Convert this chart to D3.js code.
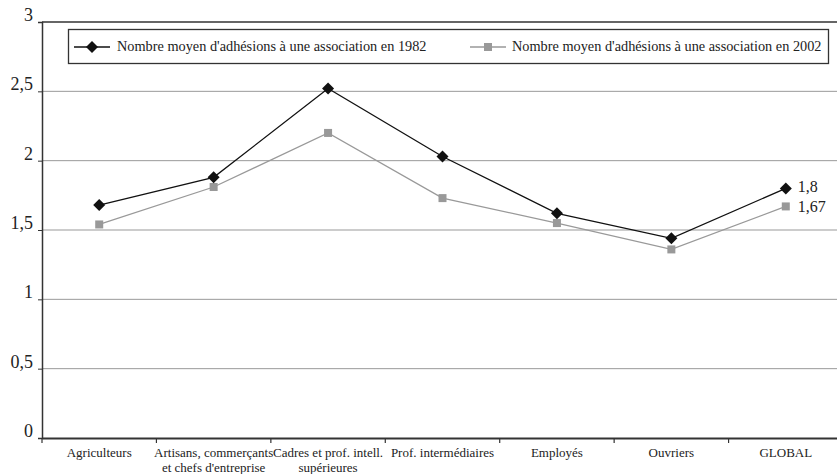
<!DOCTYPE html>
<html><head><meta charset="utf-8">
<script src="https://cdn.jsdelivr.net/npm/d3@7"></script>
<style>body{margin:0;background:#fff}svg{display:block}svg text{font-family:"Liberation Serif","Times New Roman",serif}</style>
</head><body>
<svg id="c" width="837" height="474"></svg>
<script>
const categories = ["Agriculteurs", "Artisans, commerçants\net chefs d'entreprise", "Cadres et prof. intell.\nsupérieures", "Prof. intermédiaires", "Employés", "Ouvriers", "GLOBAL"];
const values1982 = [1.68, 1.88, 2.52, 2.03, 1.62, 1.44, 1.80];
const values2002 = [1.54, 1.81, 2.20, 1.73, 1.55, 1.36, 1.67];
const yTicks = [0, 0.5, 1, 1.5, 2, 2.5, 3];
const yTickLabels = ["0", "0,5", "1", "1,5", "2", "2,5", "3"];
const seriesNames = ["Nombre moyen d'adhésions à une association en 1982", "Nombre moyen d'adhésions à une association en 2002"];
const endLabels = ["1,8", "1,67"];

(function(){
const FONT = "'Liberation Serif', 'Times New Roman', serif";
const svg = d3.select("#c");
const mLeft = 42, mRight = 843, mTop = 22, mBottom = 438;
const x = d3.scaleBand().domain(categories).range([mLeft, mRight]);
const y = d3.scaleLinear().domain([0, 3]).range([mBottom, mTop]);

svg.append("g").selectAll("line").data(yTicks.filter(d => d > 0)).join("line")
  .attr("x1", mLeft).attr("x2", 837).attr("y1", d => y(d)).attr("y2", d => y(d))
  .attr("stroke", d => d === 3 ? "#333" : "#999").attr("stroke-width", d => d === 3 ? 1.3 : 1);

const ya = d3.axisLeft(y).tickValues(yTicks).tickFormat((d, i) => yTickLabels[i]).tickSize(4).tickPadding(5);
const gy = svg.append("g").attr("transform", `translate(${mLeft},0)`).call(ya).attr("font-family", FONT);
gy.select(".domain").attr("stroke", "#333").attr("stroke-width", 1.5);
gy.selectAll(".tick line").attr("stroke", "#333");
gy.selectAll("text").attr("font-size", 18).attr("fill", "#222").attr("font-family", FONT).attr("dy", "-0.08em");

const xa = d3.axisBottom(x).tickSize(0).tickFormat("");
const gx = svg.append("g").attr("transform", `translate(0,${mBottom})`).call(xa);
gx.select(".domain").attr("stroke", "#333").attr("stroke-width", 2);
svg.append("g").selectAll("line").data(categories).join("line")
  .attr("x1", d => x(d)).attr("x2", d => x(d)).attr("y1", mBottom).attr("y2", mBottom + 5)
  .attr("stroke", "#333").attr("stroke-width", 1.2);
const lab = svg.append("g").selectAll("text").data(categories).join("text")
  .attr("x", d => x(d) + x.bandwidth() / 2).attr("y", mBottom + 19)
  .attr("text-anchor", "middle").attr("font-size", 13).attr("fill", "#222").attr("font-family", FONT);
lab.each(function(d) {
  const lines = d.split("\n");
  d3.select(this).selectAll("tspan").data(lines).join("tspan")
    .attr("x", x(d) + x.bandwidth() / 2).attr("dy", (l, i) => i === 0 ? 0 : 15).text(l => l);
});

const cx = d => x(d) + x.bandwidth() / 2;
const line = d3.line().x((v, i) => cx(categories[i])).y(v => y(v));

svg.append("path").datum(values2002).attr("d", line).attr("fill", "none").attr("stroke", "#999").attr("stroke-width", 1.3);
svg.append("g").selectAll("rect").data(values2002).join("rect")
  .attr("x", (v, i) => cx(categories[i]) - 4).attr("y", v => y(v) - 4).attr("width", 8).attr("height", 8).attr("fill", "#999");
svg.append("path").datum(values1982).attr("d", line).attr("fill", "none").attr("stroke", "#111").attr("stroke-width", 1.3);
const diamond = (px, py, r) => `M${px},${py - r}L${px + r},${py}L${px},${py + r}L${px - r},${py}Z`;
svg.append("g").selectAll("path").data(values1982).join("path")
  .attr("d", (v, i) => diamond(cx(categories[i]), y(v), 6)).attr("fill", "#111");

const last = categories.length - 1;
svg.append("text").attr("x", cx(categories[last]) + 12).attr("y", y(values1982[last]) + 4)
  .attr("font-size", 16).attr("fill", "#222").attr("font-family", FONT).text(endLabels[0]);
svg.append("text").attr("x", cx(categories[last]) + 12).attr("y", y(values2002[last]) + 6)
  .attr("font-size", 16).attr("fill", "#222").attr("font-family", FONT).text(endLabels[1]);

const lg = svg.append("g");
lg.append("rect").attr("x", 68.5).attr("y", 29.5).attr("width", 760).attr("height", 34)
  .attr("fill", "#fff").attr("stroke", "#333").attr("stroke-width", 1.3);
lg.append("line").attr("x1", 74).attr("x2", 110).attr("y1", 47).attr("y2", 47).attr("stroke", "#111").attr("stroke-width", 1.3);
lg.append("path").attr("d", diamond(92, 47, 6)).attr("fill", "#111");
lg.append("text").attr("x", 117).attr("y", 51).attr("font-size", 14.3).attr("fill", "#222").attr("font-family", FONT).text(seriesNames[0]);
lg.append("line").attr("x1", 470).attr("x2", 506).attr("y1", 47).attr("y2", 47).attr("stroke", "#999").attr("stroke-width", 1.3);
lg.append("rect").attr("x", 484).attr("y", 43).attr("width", 8).attr("height", 8).attr("fill", "#999");
lg.append("text").attr("x", 512).attr("y", 51).attr("font-size", 14.3).attr("fill", "#222").attr("font-family", FONT).text(seriesNames[1]);
})();
</script>
</body></html>
